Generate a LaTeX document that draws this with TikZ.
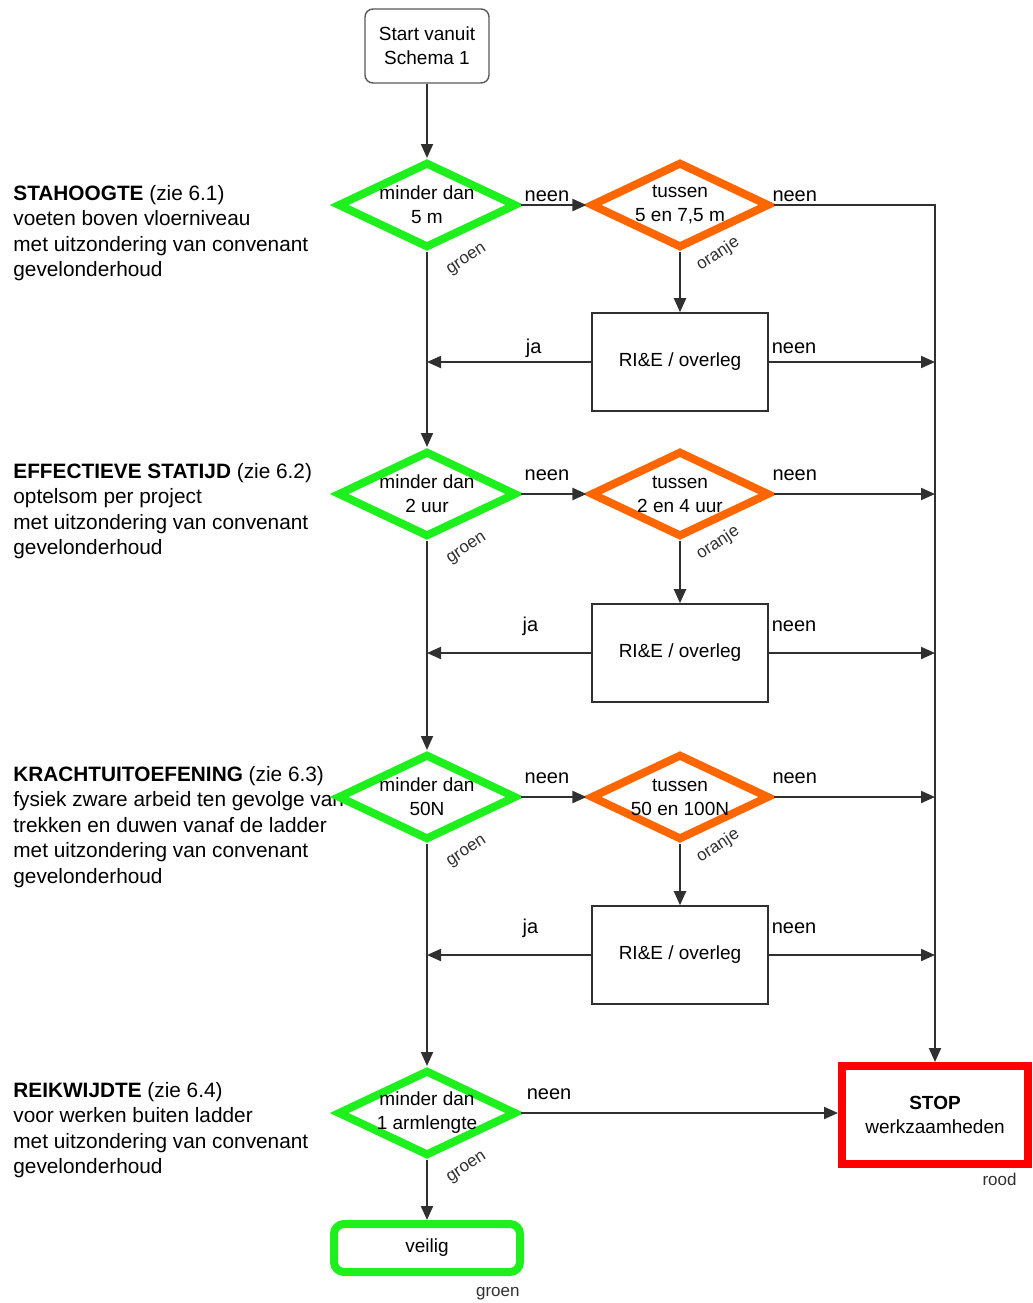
\documentclass[tikz,border=0pt]{standalone}
\usepackage{fontspec}
\setmainfont{Liberation Sans}
\usetikzlibrary{arrows.meta,shapes.geometric,positioning,calc}
\definecolor{groen}{HTML}{1EF01E}
\definecolor{oranje}{HTML}{FF6600}
\definecolor{rood}{HTML}{FF0000}
\definecolor{lijn}{HTML}{303030}
\tikzset{
  keuze/.style={diamond, draw=#1, line width=4pt, fill=white, minimum width=89.5pt, minimum height=43pt, inner sep=0pt},
  ktekst/.style={font=\fontsize{9.5}{12}\selectfont, align=center, inner sep=0pt},
  startbox/.style={draw=lijn!80, rounded corners=4pt, line width=0.7pt, minimum width=62pt, minimum height=37pt, align=center, font=\fontsize{9.5}{12}\selectfont},
  overleg/.style={draw=lijn, line width=0.8pt, minimum width=88pt, minimum height=49pt, font=\fontsize{9.5}{12}\selectfont},
  eindbox/.style={draw=#1, line width=4pt, fill=white, align=center, font=\fontsize{9.5}{12}\selectfont},
  pijl/.style={draw=lijn, line width=1pt, -{Triangle[length=7pt,width=6pt]}},
  lbl/.style={font=\fontsize{10}{12}\selectfont, inner sep=1pt},
  klein/.style={font=\fontsize{8.5}{10}\selectfont, text=lijn, inner sep=0pt},
  zijtekst/.style={font=\fontsize{10.4}{12.7}\selectfont, align=left, anchor=north west, inner sep=0pt},
}
\newcommand{\keuzerij}[5]{%
  \node[keuze=groen, label={[ktekst]center:#4}] (d#1) at (427,#2) {};
  \node[keuze=oranje, label={[ktekst]center:#5}] (o#1) at (680,#2) {};
  \node[overleg] (r#1) at (680,#3) {RI\&E / overleg};
  \node[klein, rotate=33] (gd#1) at ($(d#1)+(40,55)$) {groen};
  \node[klein, rotate=33] (go#1) at ($(o#1)+(38,49)$) {oranje};}

\begin{document}
\begin{tikzpicture}[x=0.5pt,y=-0.5pt]
  \useasboundingbox[fill=white] (0,0) rectangle (1033,1303);
  % uitleg links
  \node[zijtekst] (t1) at (13,185) {\textbf{STAHOOGTE} (zie 6.1)\\voeten boven vloerniveau\\met uitzondering van convenant\\gevelonderhoud};
  \node[zijtekst] (t2) at (13,463) {\textbf{EFFECTIEVE STATIJD} (zie 6.2)\\optelsom per project\\met uitzondering van convenant\\gevelonderhoud};
  \node[zijtekst] (t3) at (13,766) {\textbf{KRACHTUITOEFENING} (zie 6.3)\\fysiek zware arbeid ten gevolge van\\trekken en duwen vanaf de ladder\\met uitzondering van convenant\\gevelonderhoud};
  \node[zijtekst] (t4) at (13,1082) {\textbf{REIKWIJDTE} (zie 6.4)\\voor werken buiten ladder\\met uitzondering van convenant\\gevelonderhoud};

  \node[startbox] (start) at (427,46) {Start vanuit\\Schema 1};
  \keuzerij{1}{205}{362}{minder dan\\5 m}{tussen\\5 en 7,5 m}
  \keuzerij{2}{494}{653}{minder dan\\2 uur}{tussen\\2 en 4 uur}
  \keuzerij{3}{797}{955}{minder dan\\50N}{tussen\\50 en 100N}
  \node[keuze=groen, label={[ktekst]center:minder dan\\1 armlengte}] (d4) at (427,1113) {};
  \node[klein, rotate=33] (gd4) at ($(d4)+(40,55)$) {groen};
  \node[eindbox=rood, minimum width=93pt, minimum height=49pt] (stop) at (935,1115) {\textbf{STOP}\\werkzaamheden};
  \node[klein, anchor=north east] (lrood) at (1017,1173) {rood};
  \node[eindbox=groen, rounded corners=5pt, minimum width=93pt, minimum height=24pt] (veilig) at (427,1248) {veilig};
  \node[klein, anchor=north east] (lgroen) at (520,1287) {groen};

  % verbindingen
  \draw[pijl] (start) -- (d1);
  \draw[pijl] (d1) -- node[lbl, above=0pt, pos=.4]{neen} (o1);
  \draw[pijl] (o1.east) -- node[lbl, above right=0pt and -2pt, pos=0]{neen} (o1.east -| stop.north) -- (stop.north);
  \draw[pijl] (o1) -- (r1);
  \draw[pijl] (r1.west) -- node[lbl, above=0.5pt, pos=.35]{ja} (r1.west -| d1.south);
  \draw[pijl] (r1.east) -- node[lbl, above right=2.5pt and 0pt, pos=0]{neen} (r1.east -| stop.north);
  \draw[pijl] (d1) -- (d2);
  \foreach \i/\j in {2/3, 3/4} {
    \draw[pijl] (d\i) -- node[lbl, above=5pt, pos=.4]{neen} (o\i);
    \draw[pijl] (o\i.east) -- node[lbl, above right=5pt and -2pt, pos=0]{neen} (o\i.east -| stop.north);
    \draw[pijl] (o\i) -- (r\i);
    \draw[pijl] (r\i.west) -- node[lbl, above=7pt, pos=.37]{ja} (r\i.west -| d\i.south);
    \draw[pijl] (r\i.east) -- node[lbl, above right=9pt and 0pt, pos=0]{neen} (r\i.east -| stop.north);
    \draw[pijl] (d\i) -- (d\j);
  }
  \draw[pijl] (d4) -- node[lbl, above=5pt, pos=.09]{neen} (d4 -| stop.west);
  \draw[pijl] (d4) -- (veilig);
\end{tikzpicture}
\end{document}
